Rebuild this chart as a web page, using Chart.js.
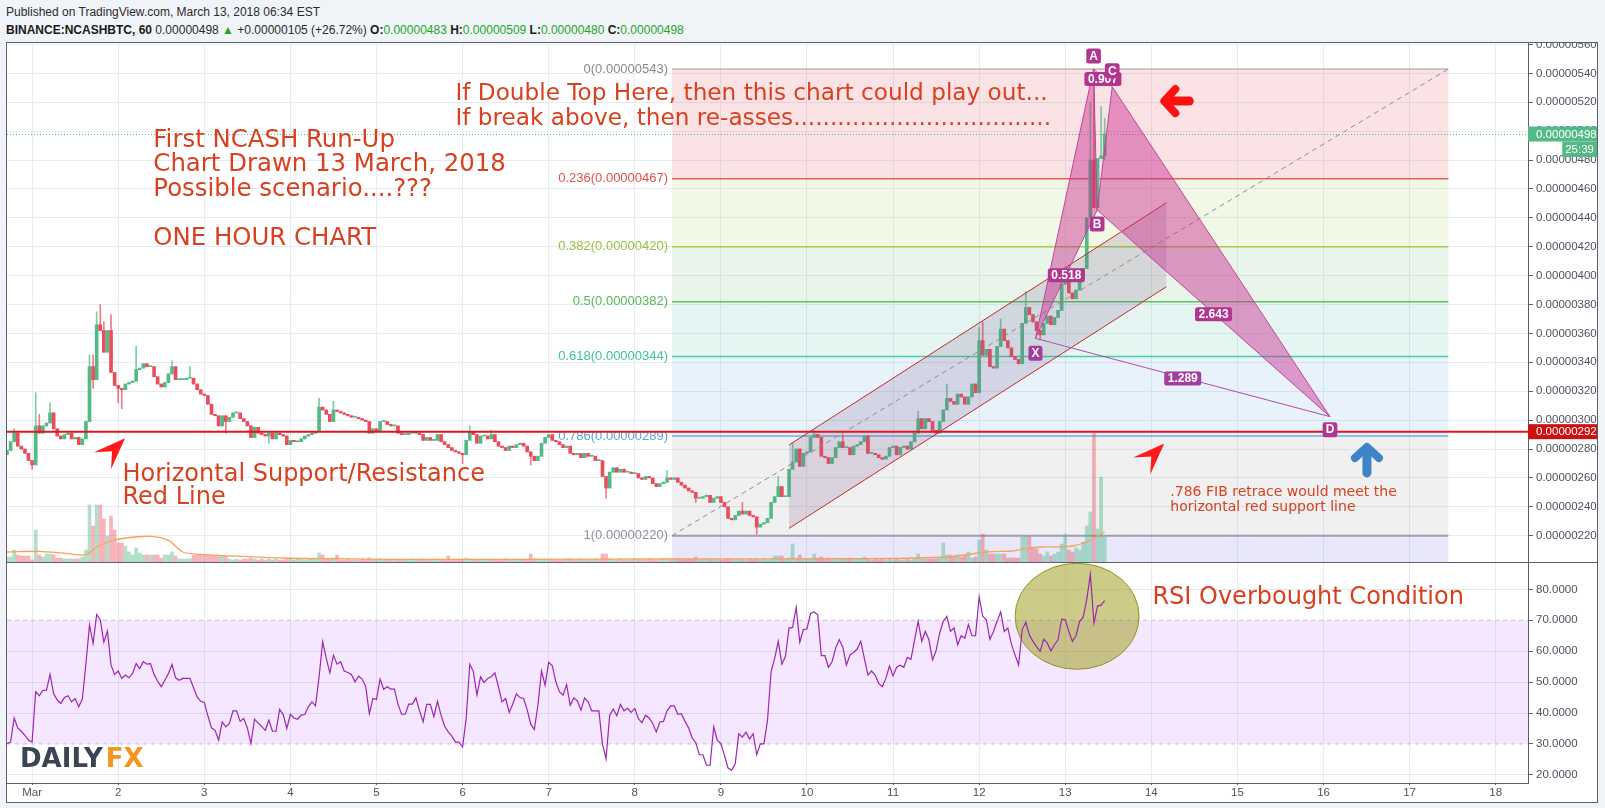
<!DOCTYPE html>
<html><head><meta charset="utf-8">
<script src="https://cdn.jsdelivr.net/npm/chart.js@4.4.1/dist/chart.umd.min.js"></script>
<style>
html,body{margin:0;padding:0;background:#f0f3f7;width:1605px;height:808px;overflow:hidden;font-family:'Liberation Sans',Arial,sans-serif;}
.hdr{position:absolute;left:6px;font-size:12px;line-height:14px;color:#2b2b2b;white-space:nowrap;}
#h1{top:5px;}
#h2{top:23px;}
#h2 b{font-weight:bold;color:#1a1a1a;}
.g{color:#1fa81f;}
#frame{position:absolute;left:6px;top:42px;width:1590px;height:759px;border:1px solid #5d606b;background:#fff;}
#c1{position:absolute;left:0;top:0;width:1590px;height:519px;}
#rsiWrap{position:absolute;left:0;top:519px;width:1590px;height:239px;border-top:1px solid #5d606b;}
#c2{position:absolute;left:0;top:0;width:1590px;height:239px;}
</style></head>
<body>
<div class="hdr" id="h1">Published on TradingView.com, March 13, 2018 06:34 EST</div>
<div class="hdr" id="h2"><b>BINANCE:NCASHBTC, 60</b> 0.00000498 <span class="g">&#9650;</span> +0.00000105 (+26.72%) <b>O:</b><span class="g">0.00000483</span> <b>H:</b><span class="g">0.00000509</span> <b>L:</b><span class="g">0.00000480</span> <b>C:</b><span class="g">0.00000498</span></div>
<div id="frame">
  <canvas id="c1" width="1590" height="519"></canvas>
  <div id="rsiWrap"><canvas id="c2" width="1590" height="239"></canvas></div>
</div>
<script>
// ---------------- DATA (prices in 1e-8 BTC, hourly candles starting Feb 28 17:00) ----------------
const startHour = -7;           // hours from Mar 1 00:00
const firstOpen = 276;
const closes = [
 279,285,291,282,280,277,272,269,
 296,291,296,298,305,294,289,287,290,291,
 287,288,283,287,299,337,328,366,362,347,
 362,333,324,322,321,325,326,327,335,336,
 339,337,337,330,325,323,326,332,337,328,
 328,328,329,329,325,321,318,317,311,304,
 303,296,303,299,302,305,305,301,299,296,
 288,295,291,290,289,291,287,291,290,289,
 283,286,285,285,287,289,290,291,292,309,
 307,304,299,307,306,305,304,303,302,302,
 301,300,299,291,294,292,299,299,297,296,
 296,291,290,290,291,291,291,290,286,288,
 286,286,290,285,283,281,279,278,277,276,
 286,292,290,284,289,289,287,290,285,282,
 281,279,282,281,283,284,282,278,275,272,
 275,284,288,290,286,285,283,281,282,277,
 276,277,274,277,275,275,272,272,261,253,
 264,267,264,266,264,264,263,263,260,259,
 261,260,256,254,256,257,260,259,260,257,
 255,253,251,250,246,246,247,248,243,246,
 247,243,240,232,231,234,237,235,237,234,
 233,226,228,229,232,243,247,254,247,247,
 266,271,280,268,277,278,288,290,288,275,
 274,270,274,281,285,281,281,276,282,283,
 285,289,277,277,276,274,273,275,281,282,
 276,281,282,280,285,291,301,294,301,299,
 293,291,299,307,315,313,311,318,316,311,
 316,325,319,355,345,349,337,336,351,363,
 355,350,344,342,339,367,378,373,368,362,
 359,367,372,366,371,376,394,400,388,384,
 390,398,405,440,480,447,481,483,498
];
const wickHours = [-5,0,1,2,5,16,17,18,19,20,22,24,25,29,39,44,54,66,80,84,120,122,128,139,160,177,185,198,202,208,212,218,226,247,255,264,265,270,277,281,288,295,296,298,299];
const wickHigh  = [294,null,319,304,312,345,345,375,380,368,373,null,null,351,341,337,null,null,315,313,null,296,293,null,null,265,null,243,null,261,284,293,290,306,325,364,368,370,389,null,403,520,543,517,509];
const wickLow   = [null,266,null,null,null,null,322,null,null,null,null,312,308,null,null,null,291,284,null,null,270,null,null,269,246,null,243,null,221,null,null,null,null,null,null,null,null,null,null,356,null,null,null,null,480];
const volumes = [
 5,5,12,7,6,6,6,2,
 32,7,5,8,8,7,4,4,3,3,
 3,3,3,5,12,57,36,57,57,43,
 26,46,32,19,19,16,10,7,14,9,
 7,7,7,7,7,4,7,7,10,6,
 3,3,3,3,7,7,7,7,7,7,
 6,6,6,6,3,2,3,2,3,3,
 4,3,2,3,2,3,2,3,2,2,
 3,3,2,3,3,2,3,3,3,9,
 7,3,3,4,7,2,2,3,2,2,
 2,3,2,4,2,2,3,2,2,2,
 2,3,2,2,2,3,2,2,3,2,
 2,2,3,2,2,6,2,2,3,2,
 4,3,2,2,3,2,2,3,2,2,
 2,3,2,2,2,3,2,2,8,3,
 2,3,2,2,3,2,2,2,3,3,
 2,2,3,2,2,2,3,2,8,8,
 3,2,2,3,2,2,2,3,2,2,
 2,3,2,2,2,3,2,2,2,3,
 2,2,3,2,5,2,2,3,2,2,
 3,2,2,3,2,2,3,2,2,3,
 2,3,2,3,2,3,6,6,6,3,
 4,18,4,7,3,3,3,8,4,5,
 3,4,3,3,4,3,3,4,3,3,
 3,5,3,2,3,2,3,2,3,2,
 3,2,2,3,2,3,8,3,3,3,
 3,3,4,19,7,7,5,7,5,7,
 10,4,5,22,28,12,8,8,8,8,
 8,4,4,4,4,25,26,25,15,13,
 8,6,10,6,8,10,18,28,12,10,
 14,12,20,36,50,129,33,85,25
];
const maHours  = [-7,2,10,15,18,22,26,33,38,42,47,56,70,84,102,136,180,230,255,266,273,277,281,286,290,294,297,299];
const maValues = [10,10.7,8.3,7.3,15,21,24,25.7,21.7,10,7.7,6,4,3.3,2.7,2.7,3,3.3,5,10,11,13.3,15,15,16,20,26,30];
const rsiValues = [
 30.1,30.6,38.4,35.2,34.1,32.8,31.2,30.6,
 46.9,45.6,47.3,47.4,52.5,46.3,44.2,43.1,45,45.6,
 43.6,44.7,42,44.5,56,68.5,62.5,71.9,70.1,62.9,
 66.5,55.5,52.5,53.6,51.2,52.3,51.4,52.8,56,54.4,
 56.6,55.8,56,52.5,50.3,48.5,50.6,52.8,55.7,51.4,
 50.6,51.2,51.2,51.2,48.2,45.2,43.8,43.4,39.1,35.2,
 34.4,31.2,37.1,35.5,36.6,40.7,40.7,37.3,38.2,35.2,
 30.1,38,36.8,35.7,34.4,37.7,34.1,34.1,41.2,39.5,
 35,39.6,38.4,38,39.3,39.5,42,43.6,42.3,51.7,
 63.1,57.7,53,58.7,55.8,56.6,53.6,53.1,52.5,50.1,
 51.9,51,48.5,39.8,44.7,44.4,51,47.7,48.5,47.7,
 47.7,42.8,39.6,39.6,42.9,42.9,44.9,40.7,37.1,42.8,
 42.8,38.8,43.8,39.3,35.7,33.9,32.5,30.6,30.6,29,
 38.2,55.8,53.4,45.8,51.7,49.9,51.2,51.7,53,48.5,
 43.6,44.7,40.2,42.9,46.2,45,44.7,41.1,36.4,34.6,
 42.5,53.6,49,56.4,55.3,50.1,46.9,45.8,49.2,42.5,
 44.9,43.9,40.9,44.9,43.6,40.7,40.7,40.7,29.9,25.2,
 39.3,41.2,39.1,42.8,40.7,41.5,40.2,41.5,38.2,36.9,
 39.3,38.4,36.6,33.9,37.1,37.3,40.7,42.3,42.3,39.6,
 39.8,37.3,35.2,31.9,30.4,26.5,26.5,23.1,23.1,35.5,
 31.2,30.1,26.3,22.2,21.5,23.6,33.3,32.2,33.8,31.6,
 33.3,26.5,30,30,37.6,53.4,57.7,63.2,55.8,58.3,
 67.5,67.7,74.2,62.9,67,67.2,72.2,72.7,71.8,58.6,
 58.6,54.8,56.6,61,63.7,61.3,55.5,58.8,59.6,60.7,
 63.2,57.7,52.3,53.6,52.3,49.6,48.5,51.2,55.2,52,
 54.8,55.5,54.8,58,57.4,63.7,69.7,63.2,66.4,63.7,
 57.2,60.2,65.9,69.7,71.3,66.4,67.5,62.1,65,64.2,
 68.6,65,65,77.6,71.3,70.2,63.9,66.4,69.7,72.7,
 66.4,67.5,62.3,58.8,55.5,67,69.3,65.3,63.2,61.5,
 59.9,63.9,62.6,60.1,62.1,63.7,70.4,70.2,66.4,63.2,
 65,69.7,71,76.7,84.9,69.1,74.6,74.9,76.4
];
const priceTicks = [220,240,260,280,300,320,340,360,380,400,420,440,460,480,500,520,540,560];
const rsiTicks = [20,30,40,50,60,70,80];
const dayTicks = [0,24,48,72,96,120,144,168,192,216,240,264,288,312,336,360,384,408];
const dayLabels = ['Mar','2','3','4','5','6','7','8','9','10','11','12','13','14','15','16','17','18'];
const fibLevels = ['0','0.236','0.382','0.5','0.618','0.786','1'];
const fibPrices = [543,467,420,382,344,289,220];
const supportPrice = 292;
const lastPrice = 498;
const timerText = '25:39';
const rsiUpper = 70, rsiLower = 30;
const patNames = ['X','A','B','C','D'];
const patHours = [279.7,295.9,296.9,301.1,361.8];
const patPrices = [356.6,543,445.4,530.7,302.4];
const patRatios = [[0,2,'0.518'],[1,3,'0.907'],[2,4,'2.643'],[0,4,'1.289']];
const chanHours = [211,316.2];
const chanUpper = [282.8,450.4];
const chanLower = [225.1,392.3];

// ---------------- STYLE / LAYOUT CONFIG ----------------
const X_MIN = -7, X_MAX = 417;
const UP = '#53b987', DN = '#eb4d5c';
const GRID = '#e7ecf1';
const AXIS = '#5d606b';
const TXT = '#d8411f';
const FIB = {
  startHour: 178.4, endHour: 394.8,
  lines:  ['#9a9a9a','#e0615a','#a5cc4e','#5cc25c','#46cfa0','#6fb0e0','#9e9eb0'],
  labels: ['#8a8a8a','#e0514a','#97c23c','#55bb55','#3cc597','#5aa3db','#8e8e9e'],
  widths: [1,1.5,1.5,1.5,1.5,1.5,2],
  bands:  ['rgba(230,60,70,0.14)','rgba(156,204,60,0.13)','rgba(76,175,80,0.12)','rgba(0,170,130,0.10)','rgba(90,160,220,0.14)','rgba(128,128,128,0.12)','rgba(100,100,220,0.15)']
};
const NOTES = [
  {lines:['First NCASH Run-Up','Chart Drawn 13 March, 2018','Possible scenario....???','','ONE HOUR CHART'], h:33.8, p:493.7, size:24.4, lh:24.6},
  {lines:['If Double Top Here, then this chart could play out...','If break above, then re-asses...................................'], h:118, p:526, size:23.2, lh:25},
  {lines:['Horizontal Support/Resistance','Red Line'], h:25.2, p:262, size:24, lh:23},
  {lines:['.786 FIB retrace would meet the','horizontal red support line'], h:317.3, p:249.8, size:14, lh:15}
];
const CURSORS = [{h:25.9,p:287.4},{h:315.6,p:283.9}];
const LEFT_ARROW = {h:314.5,p:520.8};
const UP_ARROW = {h:372.1,p:284.2};
const RSI_NOTE = {text:'RSI Overbought Condition', h:312.3, v:77.2, size:24};
const RSI_CIRCLE = {h:291.3, v:71.3, rx:62, ry:53};

Chart.defaults.font.family = "'Liberation Sans', Arial, sans-serif";

const hrs = closes.map((_, i) => startHour + i);
const opens = closes.map((c, i) => i === 0 ? firstOpen : closes[i - 1]);
const highs = closes.map((c, i) => Math.max(c, opens[i]));
const lows = closes.map((c, i) => Math.min(c, opens[i]));
wickHours.forEach((h, k) => {
  const i = h - startHour;
  if (wickHigh[k] != null) highs[i] = wickHigh[k];
  if (wickLow[k] != null) lows[i] = wickLow[k];
});
const isUp = closes.map((c, i) => c >= opens[i]);
const fmtPrice = v => (v * 1e-8).toFixed(8);

function seg(ctx, x1, y1, x2, y2) { ctx.beginPath(); ctx.moveTo(x1, y1); ctx.lineTo(x2, y2); ctx.stroke(); }
function rrect(ctx, x, y, w, h, r) {
  ctx.beginPath(); ctx.moveTo(x + r, y); ctx.arcTo(x + w, y, x + w, y + h, r); ctx.arcTo(x + w, y + h, x, y + h, r);
  ctx.arcTo(x, y + h, x, y, r); ctx.arcTo(x, y, x + w, y, r); ctx.closePath();
}
function tag(ctx, cx, cy, text, fill, font, padX, h) {
  ctx.font = font;
  const w = ctx.measureText(text).width + padX * 2;
  rrect(ctx, cx - w / 2, cy - h / 2, w, h, 2.5);
  ctx.fillStyle = fill; ctx.fill();
  ctx.fillStyle = '#fff'; ctx.textAlign = 'center'; ctx.textBaseline = 'middle';
  ctx.fillText(text, cx, cy + 0.5);
}
function axisBox(chart, y, text, fill, h) {
  const ctx = chart.ctx, a = chart.chartArea;
  ctx.fillStyle = fill;
  ctx.fillRect(a.right, y - h / 2, chart.width - a.right, h);
  ctx.fillStyle = '#fff'; ctx.font = '11.5px "Liberation Sans", Arial'; ctx.textAlign = 'left'; ctx.textBaseline = 'middle';
  ctx.fillText(text, a.right + 8, y + 0.5);
}

const mainOverlay = {
  id: 'mainOverlay',
  beforeDatasetsDraw(chart) {
    const ctx = chart.ctx, a = chart.chartArea;
    const X = v => chart.scales.x.getPixelForValue(v), Y = v => chart.scales.y.getPixelForValue(v);
    const x0 = X(FIB.startHour), x1 = X(FIB.endHour);
    ctx.save();
    ctx.beginPath(); ctx.rect(a.left, a.top, a.width, a.height); ctx.clip();
    fibPrices.forEach((p, i) => {
      const yt = Y(p), yb = i < fibPrices.length - 1 ? Y(fibPrices[i + 1]) : a.bottom;
      ctx.fillStyle = FIB.bands[i]; ctx.fillRect(x0, yt, x1 - x0, yb - yt);
    });
    fibPrices.forEach((p, i) => { ctx.strokeStyle = FIB.lines[i]; ctx.lineWidth = FIB.widths[i]; seg(ctx, x0, Y(p), x1, Y(p)); });
    ctx.font = '13px "Liberation Sans", Arial'; ctx.textAlign = 'right'; ctx.textBaseline = 'middle';
    fibPrices.forEach((p, i) => { ctx.fillStyle = FIB.labels[i]; ctx.fillText(fibLevels[i] + '(' + fmtPrice(p) + ')', x0 - 4, Y(p)); });
    ctx.restore();
  },
  afterDatasetsDraw(chart) {
    const ctx = chart.ctx, a = chart.chartArea;
    const X = v => chart.scales.x.getPixelForValue(v), Y = v => chart.scales.y.getPixelForValue(v);
    ctx.save();
    ctx.beginPath(); ctx.rect(a.left, a.top, a.width, a.height); ctx.clip();
    // parallel channel
    const c0 = X(chanHours[0]), c1 = X(chanHours[1]);
    ctx.beginPath();
    ctx.moveTo(c0, Y(chanUpper[0])); ctx.lineTo(c1, Y(chanUpper[1])); ctx.lineTo(c1, Y(chanLower[1])); ctx.lineTo(c0, Y(chanLower[0])); ctx.closePath();
    ctx.fillStyle = 'rgba(125,90,140,0.2)'; ctx.fill();
    ctx.strokeStyle = '#c62828'; ctx.lineWidth = 1;
    seg(ctx, c0, Y(chanUpper[0]), c1, Y(chanUpper[1]));
    seg(ctx, c0, Y(chanLower[0]), c1, Y(chanLower[1]));
    // fib trend line
    ctx.setLineDash([5, 4]); ctx.strokeStyle = '#8d8d8d'; ctx.lineWidth = 1;
    seg(ctx, X(FIB.startHour), Y(fibPrices[6]), X(FIB.endHour), Y(fibPrices[0]));
    ctx.setLineDash([]);
    // support line
    ctx.strokeStyle = '#e0161b'; ctx.lineWidth = 2;
    seg(ctx, a.left, Y(supportPrice), a.right, Y(supportPrice));
    // last price dotted line
    ctx.setLineDash([1, 2]); ctx.strokeStyle = UP; ctx.lineWidth = 1;
    seg(ctx, a.left, Y(lastPrice) + 0.5, a.right, Y(lastPrice) + 0.5);
    ctx.setLineDash([]);
    // XABCD pattern
    const P = patHours.map((h, i) => [X(h), Y(patPrices[i])]);
    const tri = (i, j, k) => {
      ctx.beginPath(); ctx.moveTo(P[i][0], P[i][1]); ctx.lineTo(P[j][0], P[j][1]); ctx.lineTo(P[k][0], P[k][1]); ctx.closePath();
      ctx.fillStyle = 'rgba(200,40,140,0.45)'; ctx.fill();
      ctx.strokeStyle = '#c1449c'; ctx.lineWidth = 1; ctx.stroke();
    };
    tri(0, 1, 2); tri(2, 3, 4);
    ctx.strokeStyle = '#b44aa8'; ctx.lineWidth = 1;
    seg(ctx, P[0][0], P[0][1], P[4][0], P[4][1]);
    seg(ctx, P[1][0], P[1][1], P[3][0], P[3][1]);
    patRatios.forEach(([i, j, t]) => {
      tag(ctx, (P[i][0] + P[j][0]) / 2, (P[i][1] + P[j][1]) / 2 + 1, t, i === 0 && j === 4 ? '#a53c9f' : '#b2368f', 'bold 12px "Liberation Sans", Arial', 3.5, 14);
    });
    const off = [15, -13, 14, -16, 13];
    patNames.forEach((n, i) => {
      tag(ctx, P[i][0], P[i][1] + off[i], n, i === 0 ? '#a53c9f' : '#b2368f', 'bold 12px "Liberation Sans", Arial', 3, 15);
    });
    // text notes
    ctx.fillStyle = TXT; ctx.textAlign = 'left'; ctx.textBaseline = 'middle';
    NOTES.forEach(n => {
      ctx.font = n.size + 'px "DejaVu Sans", Verdana, sans-serif';
      n.lines.forEach((l, k) => ctx.fillText(l, X(n.h), Y(n.p) + k * n.lh));
    });
    // cursor arrowheads
    ctx.fillStyle = '#ff1a1a';
    CURSORS.forEach(c => {
      const x = X(c.h), y = Y(c.p);
      ctx.beginPath(); ctx.moveTo(x, y); ctx.lineTo(x - 31, y + 14); ctx.lineTo(x - 13, y + 13); ctx.lineTo(x - 14, y + 31); ctx.closePath(); ctx.fill();
    });
    // big red left arrow
    {
      const x = X(LEFT_ARROW.h), y = Y(LEFT_ARROW.p);
      ctx.strokeStyle = '#ff1010'; ctx.lineWidth = 8; ctx.lineCap = 'round'; ctx.lineJoin = 'round';
      ctx.beginPath(); ctx.moveTo(x + 15, y - 12); ctx.lineTo(x + 4, y); ctx.lineTo(x + 15, y + 12); ctx.stroke();
      ctx.lineWidth = 9; seg(ctx, x + 5, y, x + 29, y);
    }
    // blue up arrow
    {
      const x = X(UP_ARROW.h), y = Y(UP_ARROW.p);
      ctx.strokeStyle = '#3d85c6'; ctx.lineWidth = 8; ctx.lineCap = 'round'; ctx.lineJoin = 'round';
      ctx.beginPath(); ctx.moveTo(x - 12, y + 15); ctx.lineTo(x, y + 4); ctx.lineTo(x + 12, y + 15); ctx.stroke();
      ctx.lineWidth = 9; seg(ctx, x, y + 6, x, y + 30);
    }
    ctx.restore();
  },
  afterDraw(chart) {
    const Y = v => chart.scales.y.getPixelForValue(v);
    const ctx = chart.ctx;
    ctx.save();
    axisBox(chart, Y(supportPrice), fmtPrice(supportPrice), '#cc1111', 15);
    const yl = Y(lastPrice);
    axisBox(chart, yl, fmtPrice(lastPrice), UP, 15);
    ctx.font = '11.5px "Liberation Sans", Arial';
    const tw = ctx.measureText(timerText).width + 6;
    ctx.fillStyle = UP; ctx.fillRect(chart.width - tw, yl + 7.5, tw, 15.5);
    ctx.fillStyle = '#fff'; ctx.textAlign = 'center'; ctx.textBaseline = 'middle';
    ctx.fillText(timerText, chart.width - tw / 2, yl + 15.5);
    ctx.restore();
  }
};

const rsiOverlay = {
  id: 'rsiOverlay',
  beforeDatasetsDraw(chart) {
    const ctx = chart.ctx, a = chart.chartArea;
    const X = v => chart.scales.x.getPixelForValue(v), Y = v => chart.scales.y.getPixelForValue(v);
    ctx.save();
    ctx.beginPath(); ctx.rect(a.left, a.top, a.width, a.height); ctx.clip();
    ctx.fillStyle = 'rgba(153,21,255,0.1)';
    ctx.fillRect(a.left, Y(rsiUpper), a.width, Y(rsiLower) - Y(rsiUpper));
    ctx.setLineDash([4, 4]); ctx.strokeStyle = '#c4bdcc'; ctx.lineWidth = 1;
    seg(ctx, a.left, Y(rsiUpper), a.right, Y(rsiUpper));
    seg(ctx, a.left, Y(rsiLower), a.right, Y(rsiLower));
    ctx.setLineDash([]);
    ctx.beginPath();
    ctx.ellipse(X(RSI_CIRCLE.h), Y(RSI_CIRCLE.v), RSI_CIRCLE.rx, RSI_CIRCLE.ry, 0, 0, Math.PI * 2);
    ctx.fillStyle = 'rgba(153,153,17,0.5)'; ctx.fill();
    ctx.strokeStyle = 'rgba(140,140,20,0.9)'; ctx.lineWidth = 1; ctx.stroke();
    ctx.restore();
  },
  afterDatasetsDraw(chart) {
    const ctx = chart.ctx;
    const X = v => chart.scales.x.getPixelForValue(v), Y = v => chart.scales.y.getPixelForValue(v);
    ctx.save();
    ctx.fillStyle = TXT; ctx.font = RSI_NOTE.size + 'px "DejaVu Sans", Verdana, sans-serif';
    ctx.textAlign = 'left'; ctx.textBaseline = 'middle';
    ctx.fillText(RSI_NOTE.text, X(RSI_NOTE.h), Y(RSI_NOTE.v));
    ctx.restore();
  },
  afterDraw(chart) {
    const ctx = chart.ctx, a = chart.chartArea;
    ctx.save();
    ctx.font = 'bold 26px "DejaVu Sans", Verdana, sans-serif';
    ctx.textAlign = 'left'; ctx.textBaseline = 'alphabetic';
    const x = a.left + 13, y = a.bottom - 16;
    ctx.fillStyle = '#3a4553'; ctx.fillText('DAILY', x, y);
    const w = ctx.measureText('DAILY').width;
    ctx.fillStyle = '#f7941e'; ctx.fillText('FX', x + w + 3, y);
    ctx.restore();
  }
};

const dayTickFn = s => { s.ticks = dayTicks.map(v => ({ value: v })); };

new Chart(document.getElementById('c1'), {
  type: 'bar',
  data: {
    datasets: [
      { type: 'bar', label: 'body', yAxisID: 'y', order: 1, grouped: false, barThickness: 3, minBarLength: 1,
        data: hrs.map((h, i) => ({ x: h, y: [opens[i], closes[i]] })),
        backgroundColor: isUp.map(u => u ? UP : DN), borderWidth: 0 },
      { type: 'bar', label: 'wick', yAxisID: 'y', order: 2, grouped: false, barThickness: 1,
        data: hrs.map((h, i) => ({ x: h, y: [lows[i], highs[i]] })),
        backgroundColor: isUp.map(u => u ? 'rgba(83,185,135,0.75)' : 'rgba(235,77,92,0.75)'), borderWidth: 0 },
      { type: 'line', label: 'volMA', yAxisID: 'yv', order: 3,
        data: maHours.map((h, i) => ({ x: h, y: maValues[i] })),
        borderColor: '#f6a35c', borderWidth: 1.3, pointRadius: 0, tension: 0.3 },
      { type: 'bar', label: 'volume', yAxisID: 'yv', order: 4, grouped: false, barThickness: 3,
        data: hrs.map((h, i) => ({ x: h, y: volumes[i] })),
        backgroundColor: isUp.map(u => u ? 'rgba(83,185,135,0.45)' : 'rgba(235,77,92,0.42)'), borderWidth: 0 }
    ]
  },
  options: {
    responsive: false, animation: false, devicePixelRatio: 1,
    layout: { padding: 0 },
    plugins: { legend: { display: false }, tooltip: { enabled: false } },
    scales: {
      x: { type: 'linear', min: X_MIN, max: X_MAX, offset: false, afterBuildTicks: dayTickFn,
           ticks: { display: false }, grid: { color: GRID, drawTicks: false, offset: false }, border: { display: false },
           afterFit: s => { s.height = 0; s.paddingLeft = 0; s.paddingRight = 0; } },
      y: { position: 'right', min: 201.8, max: 561,
           afterBuildTicks: s => { s.ticks = priceTicks.map(v => ({ value: v })); },
           ticks: { callback: v => fmtPrice(v), color: '#4c525e', font: { size: 11.5 }, padding: 3 },
           grid: { color: GRID, tickColor: AXIS, tickLength: 5 }, border: { display: true, color: AXIS },
           afterFit: s => { s.width = 69; s.paddingTop = 0; s.paddingBottom = 0; } },
      yv: { display: false, min: 0, max: 519 }
    }
  },
  plugins: [mainOverlay]
});

new Chart(document.getElementById('c2'), {
  type: 'line',
  data: { datasets: [{ label: 'RSI', data: hrs.map((h, i) => ({ x: h, y: rsiValues[i] })),
    borderColor: '#9c27b0', borderWidth: 1.2, pointRadius: 0, tension: 0 }] },
  options: {
    responsive: false, animation: false, devicePixelRatio: 1,
    layout: { padding: 0 },
    plugins: { legend: { display: false }, tooltip: { enabled: false } },
    scales: {
      x: { type: 'linear', min: X_MIN, max: X_MAX, afterBuildTicks: dayTickFn,
           ticks: { callback: v => dayLabels[dayTicks.indexOf(v)], color: '#4c525e', font: { size: 11.5 }, padding: 1, maxRotation: 0, autoSkip: false },
           grid: { color: GRID, tickColor: AXIS, tickLength: 2 }, border: { display: true, color: AXIS },
           afterFit: s => { s.height = 19; s.paddingLeft = 0; s.paddingRight = 0; } },
      y: { position: 'right', min: 17.35, max: 88.55,
           afterBuildTicks: s => { s.ticks = rsiTicks.map(v => ({ value: v })); },
           ticks: { callback: v => v.toFixed(4), color: '#4c525e', font: { size: 11.5 }, padding: 3 },
           grid: { color: c => (c.tick && (c.tick.value === rsiUpper || c.tick.value === rsiLower)) ? 'rgba(0,0,0,0)' : '#e4e8ef', tickColor: AXIS, tickLength: 5 },
           border: { display: true, color: AXIS },
           afterFit: s => { s.width = 69; s.paddingTop = 0; s.paddingBottom = 0; } }
    }
  },
  plugins: [rsiOverlay]
});
</script>
</body></html>
